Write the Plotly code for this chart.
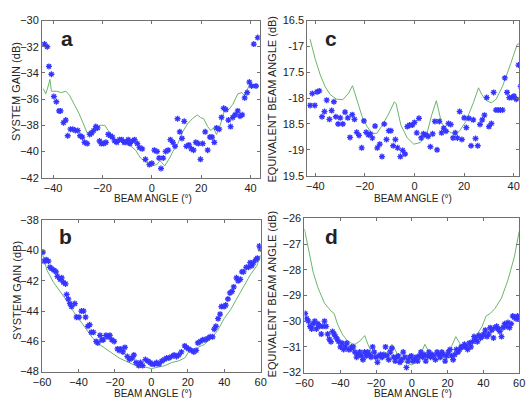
import plotly.graph_objects as go

# ---------------- Panel a ----------------
a_x = [-43.5,-42.4,-41.7,-40.7,-39.7,-38.7,-37.6,-37.0,-35.8,-34.9,-34.1,-33.0,-32.0,-31.0,-30.0,-29.1,-28.2,-27.3,-26.2,-25.2,
       -24.4,-23.6,-22.7,-22.0,-21.2,-20.5,-19.5,-18.6,-17.7,-16.8,-16.0,-15.1,-14.2,-13.1,-12.2,-11.3,-10.5,-9.6,-8.9,-7.9,
       -7.0,-5.9,-5.0,-3.9,-2.6,-1.0,0.0,1.0,2.1,2.9,3.7,4.6,5.6,6.6,7.5,8.5,9.4,10.4,11.3,12.2,
       13.1,14.0,15.0,16.0,16.9,17.8,18.8,19.7,20.6,21.6,22.6,23.5,24.4,25.3,26.2,27.3,28.2,29.1,30.0,31.0,
       31.9,32.8,33.7,34.8,35.7,36.6,37.6,38.6,39.5,40.4,41.3,42.2,42.9]
a_y = [-31.8,-32.0,-33.5,-34.1,-35.8,-36.2,-36.9,-36.9,-37.8,-37.6,-38.8,-38.3,-38.3,-38.4,-38.4,-38.8,-38.9,-39.3,-39.4,-38.7,
       -38.6,-38.4,-38.1,-38.2,-39.2,-39.4,-39.4,-39.3,-38.7,-38.8,-38.9,-39.2,-39.3,-39.1,-39.1,-39.3,-39.3,-39.1,-39.4,-39.2,
       -39.1,-39.4,-39.7,-39.8,-40.6,-41.0,-40.9,-39.9,-40.0,-40.5,-41.3,-40.5,-40.0,-39.9,-39.1,-39.3,-39.6,-37.5,-38.5,-39.0,
       -37.7,-39.6,-39.5,-39.8,-39.9,-39.3,-39.4,-40.6,-39.4,-38.5,-39.9,-38.9,-38.9,-39.3,-38.2,-38.3,-37.4,-36.7,-36.8,-37.6,
       -38.1,-37.4,-37.2,-36.9,-37.3,-37.2,-35.9,-35.5,-34.7,-35.0,-31.8,-35.0,-31.3]
a_lx = [-44,-43,-42,-41.3,-40.7,-38.7,-36.7,-34.8,-33.4,-31.5,-29.5,-27.5,-26.2,-25,-23,-21,-19,-17.7,-15.7,-13.8,
        -12.5,-10.5,-8.5,-6.6,-4.6,-2.6,0,2,3.3,5.2,7.2,8.5,10.5,12.5,14.4,16.4,18.4,19.7,21,22.6,
        23.9,24.9,26.2,27.5,28.6,29.5,31.2,32.8,34.8,36.5,37.4,38.7,40,40.9,42]
a_ly = [-35.2,-35.6,-35.0,-34.5,-35.4,-35.4,-35.5,-35.4,-35.7,-36.4,-37.1,-38.0,-38.6,-38.4,-38.3,-38.0,-38.0,-38.4,-38.9,-39.3,
        -39.2,-39.3,-39.6,-39.9,-40.5,-40.8,-41.1,-41.0,-40.7,-41.1,-40.5,-40.0,-39.4,-38.5,-37.9,-37.5,-37.2,-37.4,-37.5,-38.1,
        -38.4,-38.2,-38.7,-38.1,-37.4,-36.8,-36.8,-36.4,-35.6,-35.5,-35.7,-35.2,-34.8,-34.9,-35.0]

# ---------------- Panel c ----------------
c_x = [-42.1,-41.2,-40.2,-39.3,-38.4,-37.3,-36.3,-35.4,-34.3,-33.4,-32.5,-31.7,-30.8,-29.9,-28.9,-28.0,-26.9,-26.0,-25.1,-24.2,
       -23.3,-22.4,-21.3,-20.4,-19.5,-18.6,-17.8,-17.0,-15.9,-15.0,-14.0,-13.1,-12.2,-11.3,-10.4,-9.5,-8.6,-7.7,-6.8,-5.7,
       -4.8,-3.8,-2.9,-2.0,-0.9,0.0,0.9,1.8,2.7,3.6,4.6,5.5,6.4,7.3,8.2,9.1,10.0,10.9,11.8,12.7,
       13.7,14.6,15.5,16.4,17.3,18.2,19.1,20.0,20.9,21.9,22.8,23.7,24.6,25.5,26.4,27.3,28.2,29.1,30.0,31.0,
       31.9,32.8,33.7,34.6,35.5,36.4,37.3,38.2,39.2,40.1,41.0,41.9,42.8]
c_y = [-18.14,-17.91,-18.14,-17.88,-17.86,-18.36,-18.26,-18.04,-18.41,-18.24,-18.07,-18.36,-18.50,-18.38,-18.50,-18.27,-18.38,-18.76,-18.32,-18.41,
       -18.66,-18.72,-18.96,-18.44,-18.66,-18.71,-18.69,-18.77,-18.54,-18.96,-18.89,-19.13,-18.50,-18.80,-18.63,-18.63,-18.92,-18.80,-18.96,-19.13,
       -19.01,-19.08,-18.55,-18.52,-18.52,-18.47,-18.67,-18.39,-18.77,-18.69,-18.71,-18.74,-18.94,-18.69,-18.45,-19.00,-18.45,-18.67,-18.58,-18.64,
       -18.49,-18.51,-18.77,-18.67,-18.77,-18.26,-18.80,-18.38,-18.57,-18.39,-18.92,-18.42,-18.78,-18.92,-18.51,-18.42,-18.33,-17.99,-18.55,-18.49,
       -17.89,-18.23,-18.23,-18.23,-18.23,-17.61,-17.89,-17.99,-17.99,-17.96,-18.02,-17.36,-17.77]
c_lx = [-42.1,-40,-38,-36,-34,-31.5,-28.9,-26.5,-25,-23,-21.1,-19.1,-17.2,-15.2,-13.3,-10.7,-8.1,-7.4,-5.5,-2.9,
        -0.3,2.3,4.9,6.9,8.8,10.8,12.7,15.3,17.9,20.6,23.8,25.8,27.1,29,31,32.9,35.5,38.8,41.4,43.3]
c_ly = [-16.86,-17.25,-17.55,-17.78,-17.93,-18.02,-18.03,-17.90,-17.76,-18.08,-18.36,-18.55,-18.68,-18.68,-18.55,-18.33,-18.07,-18.11,-18.52,-18.77,
        -18.89,-18.86,-18.71,-18.33,-18.05,-18.46,-18.62,-18.68,-18.65,-18.46,-18.08,-17.80,-17.93,-18.05,-18.09,-18.02,-17.77,-17.33,-16.96,-16.93]
c_tickvals = [-16.5,-17,-17.5,-18,-18.5,-19,-19.5]
c_ticktext = ["16.5","-17","17.5","-18","18.5","-19","19.5"]

# ---------------- Panel b ----------------
b_x = [-59.5,-58.8,-57.7,-56.5,-55.6,-54.7,-53.4,-52.3,-51.6,-50.1,-49.2,-48.3,-47.1,-46.5,-45.6,-44.7,-43.8,-42.0,-41.1,-39.7,
       -38.4,-37.2,-36.1,-34.8,-33.9,-33.0,-31.8,-30.3,-29.4,-28.2,-27.1,-26.4,-24.9,-23.8,-22.8,-21.7,-20.4,-18.6,-17.7,-16.8,
       -15.6,-14.5,-13.2,-12.0,-10.5,-9.6,-8.4,-6.9,-6.0,-4.8,-3.3,-1.9,-0.6,0.3,1.7,2.9,4.2,5.7,7.1,8.4,
       9.6,11.1,12.5,13.8,15.0,16.5,18.3,19.2,20.4,21.9,23.3,24.6,25.5,26.9,28.2,29.4,30.9,32.3,33.6,34.5,
       35.4,36.6,37.7,38.4,39.9,40.8,42.0,43.1,44.3,45.2,46.7,47.6,48.8,49.7,50.6,52.1,53.3,54.2,55.1,56.0,
       57.3,58.2,59.3,60.0]
b_y = [-40.1,-40.7,-40.6,-40.7,-41.1,-41.2,-41.3,-41.4,-41.7,-41.9,-41.8,-42.1,-42.2,-42.9,-43.2,-43.5,-43.7,-43.5,-44.4,-44.4,
       -44.0,-44.0,-44.4,-45.0,-44.9,-45.4,-45.4,-46.0,-46.1,-45.6,-45.9,-45.9,-45.6,-45.7,-45.6,-45.9,-46.0,-46.5,-46.6,-46.5,
       -46.7,-46.4,-47.0,-47.2,-47.1,-46.9,-47.4,-47.6,-47.4,-47.6,-47.2,-47.3,-47.4,-47.5,-47.5,-47.4,-47.5,-47.3,-47.2,-47.1,
       -47.1,-47.0,-46.9,-47.0,-46.9,-46.7,-46.3,-46.4,-46.5,-46.6,-46.7,-46.6,-46.1,-46.0,-45.9,-45.9,-45.8,-45.7,-45.7,-45.2,
       -45.0,-44.5,-44.2,-43.7,-43.7,-43.6,-43.2,-42.8,-42.7,-42.4,-41.8,-42.0,-41.9,-41.4,-41.4,-41.1,-41.1,-40.8,-41.0,-40.8,
       -40.6,-40.5,-39.7,-39.9]
b_lx = [-60,-57.3,-53.7,-50.1,-46.5,-42.9,-39.3,-35.7,-32.1,-28.5,-24.9,-21.3,-17.7,-14.1,-10.5,-6.9,-3.3,0,3.9,7.5,
        11.1,14.7,18.3,21,22.8,25.5,29.1,32.7,36.3,39.9,43.5,47.1,50.7,54.3,57.9,60]
b_ly = [-40.1,-41.3,-42.1,-42.7,-43.3,-44.0,-44.6,-45.2,-45.8,-46.2,-46.5,-46.8,-47.1,-47.3,-47.5,-47.7,-47.7,-47.8,-47.7,-47.6,
        -47.4,-47.3,-47.1,-46.6,-46.7,-46.4,-46.2,-45.8,-45.3,-44.5,-43.9,-43.1,-42.4,-41.6,-41.0,-40.3]

# ---------------- Panel d ----------------
d_x = [-59.6,-58.7,-57.8,-56.9,-56.0,-55.1,-54.2,-53.3,-52.4,-51.5,-50.6,-49.7,-48.8,-47.9,-47.0,-46.1,-45.2,-44.3,-43.4,-42.6,
       -41.7,-40.8,-39.9,-39.0,-38.1,-37.2,-36.3,-35.4,-34.5,-33.6,-32.7,-31.8,-30.9,-30.0,-29.1,-28.2,-27.3,-26.4,-25.5,-24.6,
       -23.7,-22.8,-21.9,-21.0,-20.1,-19.2,-18.3,-17.4,-16.5,-15.6,-14.7,-13.8,-12.9,-12.0,-11.1,-10.2,-9.3,-8.4,-7.5,-6.6,
       -5.7,-4.8,-3.9,-3.0,-2.1,-1.2,-0.3,0.6,1.5,2.4,3.3,4.2,5.1,6.0,6.9,7.8,8.7,9.6,10.5,11.4,
       12.3,13.2,14.1,15.0,15.9,16.8,17.7,18.6,19.5,20.4,21.3,22.2,23.1,24.0,24.9,25.8,26.7,27.6,28.5,29.4,
       30.3,31.2,32.1,33.0,33.9,34.8,35.7,36.6,37.5,38.4,39.3,40.2,41.1,42.0,42.9,43.8,44.7,45.6,46.5,47.4,
       48.3,49.2,50.1,51.0,51.9,52.8,53.7,54.6,55.5,56.4,57.3,58.2,59.1,60.0]
d_y = [-29.7,-29.9,-30.0,-30.2,-30.3,-30.1,-30.0,-30.3,-30.1,-30.2,-30.5,-30.2,-30.0,-30.2,-30.5,-30.7,-30.8,-30.4,-30.5,-30.6,
       -30.7,-30.8,-31.0,-30.85,-31.1,-31.0,-30.85,-31.1,-31.1,-31.0,-31.0,-31.2,-31.4,-31.3,-31.2,-31.35,-31.5,-31.2,-31.35,-31.2,
       -31.3,-31.4,-31.0,-31.2,-31.4,-31.6,-31.35,-31.3,-31.4,-31.3,-31.0,-31.35,-31.5,-31.2,-31.05,-31.4,-31.55,-31.4,-31.35,-31.6,
       -31.5,-31.2,-31.4,-31.8,-31.55,-31.4,-31.35,-31.55,-31.5,-31.4,-31.55,-31.35,-31.2,-31.4,-31.3,-31.55,-31.35,-31.2,-31.4,-31.3,
       -31.35,-31.5,-31.2,-31.3,-31.4,-31.2,-31.3,-31.55,-31.35,-31.2,-31.1,-31.35,-31.5,-31.3,-31.1,-31.2,-31.1,-31.0,-31.0,-30.9,
       -31.0,-31.1,-30.85,-31.0,-30.8,-30.6,-30.7,-30.8,-30.55,-30.65,-30.6,-30.5,-30.35,-30.6,-30.5,-30.25,-30.35,-30.65,-30.25,-30.2,
       -30.3,-30.4,-30.6,-30.25,-30.1,-30.2,-30.05,-30.25,-30.1,-29.8,-29.85,-29.9,-29.8,-29.9]
d_lx = [-60,-57.8,-55.1,-52.4,-48.8,-45.2,-43.4,-41.6,-38.9,-36.2,-33.5,-31.7,-29,-26.3,-24.5,-21.9,-19.2,-16.5,-13.8,-11.1,
        -9.3,-6.6,-3.9,-0.3,3,5.5,7.3,9.6,12.3,15.9,19.5,22.2,24.6,27.1,30.3,33,35.7,39.3,41.5,43.8,
        46.5,50.1,53.7,57.3,60]
d_ly = [-26.41,-27.2,-28.1,-28.7,-29.3,-29.6,-29.7,-30.1,-30.5,-30.75,-30.87,-30.9,-30.77,-30.56,-30.9,-31.3,-31.5,-31.5,-31.2,-30.9,
        -31.1,-31.5,-31.6,-31.7,-31.6,-31.2,-30.9,-31.2,-31.5,-31.5,-31.35,-30.98,-30.6,-30.9,-30.98,-30.85,-30.6,-30.2,-29.8,-29.7,
        -29.5,-29.1,-28.4,-27.5,-26.5]

MARKER_COLOR = "#3535ff"
LINE_COLOR = "#6bb56b"
FONT = "Liberation Sans, Arial, sans-serif"

fig = go.Figure()

panels = [
    ("x", "y", a_x, a_y, a_lx, a_ly),
    ("x2", "y2", c_x, c_y, c_lx, c_ly),
    ("x3", "y3", b_x, b_y, b_lx, b_ly),
    ("x4", "y4", d_x, d_y, d_lx, d_ly),
]
for xa, ya, mx, my, lx, ly in panels:
    fig.add_trace(go.Scatter(x=lx, y=ly, xaxis=xa, yaxis=ya, mode="lines",
                             line=dict(color=LINE_COLOR, width=1), showlegend=False))
    fig.add_trace(go.Scatter(x=mx, y=my, xaxis=xa, yaxis=ya, mode="markers",
                             marker=dict(symbol="asterisk-open", size=5, color=MARKER_COLOR,
                                         line=dict(color=MARKER_COLOR, width=1.3)),
                             showlegend=False))

W, H = 532, 398
def xd(l, r): return [l / W, r / W]
def yd(t, b): return [1 - b / H, 1 - t / H]

axis_common = dict(showgrid=False, zeroline=False, showline=True, linecolor="#707070", linewidth=1,
                   mirror="ticks", ticks="inside", ticklen=3, tickcolor="#707070",
                   tickfont=dict(family=FONT, size=11, color="#222222"))

fig.update_layout(
    width=W, height=H, margin=dict(l=0, r=0, t=0, b=0),
    paper_bgcolor="white", plot_bgcolor="white",
    font=dict(family=FONT, size=11, color="#222222"),
    xaxis=dict(domain=xd(34, 258), range=[-44.5, 43.7], tickvals=[-40, -20, 0, 20, 40], anchor="y", **axis_common),
    yaxis=dict(domain=yd(15, 177), range=[-42, -30], tickvals=[-42, -40, -38, -36, -34, -32, -30], anchor="x", **axis_common),
    xaxis2=dict(domain=xd(307, 525), range=[-43.2, 42.2], tickvals=[-40, -20, 0, 20, 40], anchor="y2", **axis_common),
    yaxis2=dict(domain=yd(15, 175), range=[-19.5, -16.5], tickvals=c_tickvals, ticktext=c_ticktext, anchor="x2", **axis_common),
    xaxis3=dict(domain=xd(34, 259), range=[-60, 60], tickvals=[-60, -40, -20, 0, 20, 40, 60], anchor="y3", **axis_common),
    yaxis3=dict(domain=yd(221, 377), range=[-48, -38], tickvals=[-48, -46, -44, -42, -40, -38], anchor="x3", **axis_common),
    xaxis4=dict(domain=xd(304, 525), range=[-60, 60], tickvals=[-60, -40, -20, 0, 20, 40, 60], anchor="y4", **axis_common),
    yaxis4=dict(domain=yd(219, 378), range=[-32, -26], tickvals=[-32, -31, -30, -29, -28, -27, -26], anchor="x4", **axis_common),
)

def ann(text, x, y, size=11, angle=0, bold=False):
    fig.add_annotation(text=f"<b>{text}</b>" if bold else text, x=x / W, y=1 - y / H, xref="paper", yref="paper",
                       showarrow=False, textangle=angle, xanchor="center", yanchor="middle",
                       font=dict(family=FONT, size=size, color="#222222"))

# panel letters
ann("a", 60, 33, size=21, bold=True)
ann("c", 331, 33, size=21, bold=True)
ann("b", 58, 238, size=21, bold=True)
ann("d", 332, 238, size=21, bold=True)

# axis titles
ann("BEAM ANGLE (°)", 148, 198.5, size=10)
ann("BEAM ANGLE (°)", 416, 198.5, size=10)
ann("BEAM ANGLE (°)", 148, 400, size=10)
ann("BEAM ANGLE (°)", 416, 400, size=10)
ann("SYSTEM GAIN (dB)", 8, 88, size=11, angle=-90)
ann("EQUIVALENT BEAM ANGLE (dB)", 271, 96, size=11, angle=-90)
ann("SYSTEM GAIN (dB)", 8, 293, size=11, angle=-90)
ann("EQUIVALENT BEAM ANGLE (dB)", 271, 297, size=11, angle=-90)

fig.write_html("out.html")
